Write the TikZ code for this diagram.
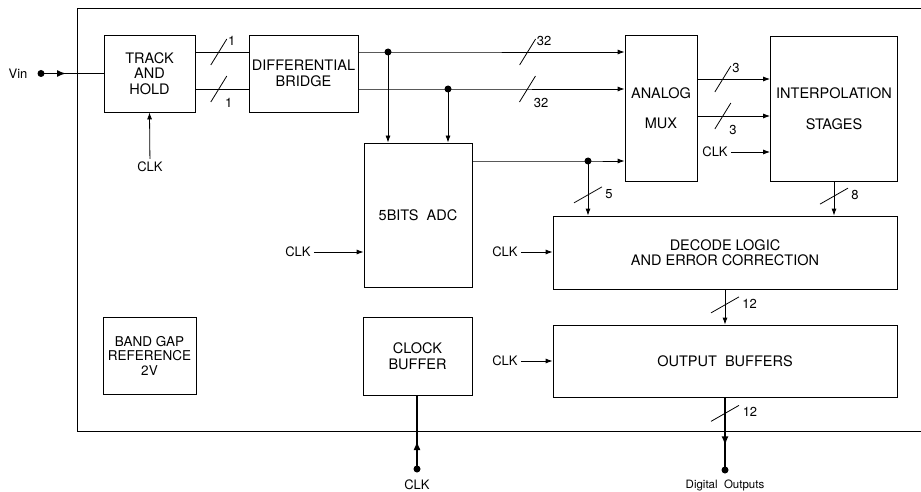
\documentclass[tikz,border=0pt]{standalone}
\usepackage{fontspec}
\setmainfont{TeX Gyre Heros}
\usetikzlibrary{arrows.meta,decorations.markings}

\tikzset{
  block/.style={draw, line width=0.8pt, align=center, inner sep=2pt,
    font=\fontsize{14.5}{15.5}\selectfont},
  tag/.style={inner sep=3pt, font=\fontsize{13}{14}\selectfont},
  wire/.style={line width=0.8pt},
  pin/.style={line width=1.5pt},
  dot/.style={circle, fill, inner sep=0pt, minimum size=7pt},
  midarrow/.style={postaction={decorate}, decoration={markings,
    mark=at position #1 with {\arrow{Latex[length=9pt,width=7pt]}}}},
  % bus width marks
  pics/busup/.style={code={\draw[wire, -] (-8,13) -- (8,-13);
    \node[tag, anchor=west, inner sep=1pt] at (8,-11) {#1};}},
  pics/busdn/.style={code={\draw[wire, -] (-8,13) -- (8,-13);
    \node[tag, anchor=west, inner sep=1pt] at (5,14) {#1};}},
  pics/busv/.style={code={\draw[wire, -] (-14,8) -- (14,-8);
    \node[tag, anchor=west, inner sep=1pt] at (16,-1) {#1};}},
}

\begin{document}
\begin{tikzpicture}[x=1pt, y=-1pt, >={Latex[length=7pt,width=5pt]}]
    \useasboundingbox (0,0) rectangle (921,492);

    % Chip outline
    \draw[wire] (921,8) -- (77,8) -- (77,431) -- (921,431);

    % Blocs
    \node[block, minimum width=91pt, minimum height=77pt] (th) at (149.5,73.5) {TRACK\\AND\\HOLD};
    \node[block, minimum width=109pt, minimum height=77pt] (db) at (303.5,73.5) {DIFFERENTIAL\\BRIDGE};
    \node[block, minimum width=72pt, minimum height=146pt] (mux) at (661,108) {ANALOG\\[15pt]MUX};
    \node[block, minimum width=127pt, minimum height=145pt] (ip) at (834,108.5) {INTERPOLATION\\[15pt]STAGES};
    \node[block, minimum width=108pt, minimum height=144pt] (adc) at (418,215) {5BITS\ \ ADC};
    \node[block, minimum width=344pt, minimum height=73pt] (dec) at (725,252.5) {DECODE\ LOGIC\\AND\ ERROR\ CORRECTION};
    \node[block, minimum width=344pt, minimum height=72pt] (ob) at (725,361) {OUTPUT\ \ BUFFERS};
    \node[block, minimum width=93pt, minimum height=77pt, font=\fontsize{13.5}{14.5}\selectfont] (bg) at (149.5,355.5) {BAND\ GAP\\REFERENCE\\2V};
    \node[block, minimum width=109pt, minimum height=78pt] (cb) at (417.5,356) {CLOCK\\BUFFER};

    % Points
    \coordinate (vin) at (41,73.5);
    \coordinate (busA) at (388,52);
    \coordinate (busB) at (448,89);
    \coordinate (adcout) at (588,161);
    \coordinate (mo1) at ([yshift=29pt]mux.east);
    \coordinate (mo2) at ([yshift=-8pt]mux.east);
    \coordinate (clkin) at (417,469);
    \coordinate (dout) at (725,470);

    % Labels
    \node[tag] (vinlab) at (18,73.5) {Vin};
    \node[tag] (clk0) at (150,167) {CLK};
    \node[tag] (clk1) at (298,252) {CLK};
    \node[tag] (clk2) at (505,252) {CLK};
    \node[tag] (clk3) at (715,152) {CLK};
    \node[tag] (clk4) at (505,361) {CLK};
    \node[tag] (clk5) at (417,485) {CLK};
    \node[tag, font=\fontsize{11.5}{13}\selectfont] (outlab) at (725,485) {Digital\ \ Outputs};

    % Entree et horloges
    \draw[pin, midarrow=0.4] (vin) -- (th.west);
    \draw[wire, ->] (clk0) -- (th.south);
    \draw[wire, ->] (clk1) -- (adc.west |- clk1);
    \draw[wire, ->] (clk2) -- (dec.west |- clk2);
    \draw[wire, ->] (clk3) -- (ip.west |- clk3);
    \draw[wire, ->] (clk4) -- (ob.west |- clk4);
    \draw[pin, midarrow=0.38] (clkin) -- (clkin |- cb.south);

    % Bus
    \draw[wire] (th.east |- busA) -- pic[pos=0.44]{busup=1} (db.west |- busA);
    \draw[wire] (th.east |- busB) -- pic[pos=0.44]{busdn=1} (db.west |- busB);
    \draw[wire, ->] (db.east |- busA) -- (busA) -- pic[pos=0.59]{busup=32} (mux.west |- busA);
    \draw[wire, ->] (db.east |- busB) -- (busB) -- pic[pos=0.45]{busdn=32} (mux.west |- busB);
    \draw[wire, ->] (busA) -- (busA |- adc.north);
    \draw[wire, ->] (busB) -- (busB |- adc.north);
    \draw[wire, ->] (adc.east |- adcout) -- (adcout) -- (mux.west |- adcout);
    \draw[wire, ->] (adcout) -- pic[pos=0.62]{busv=5} (adcout |- dec.north);
    \draw[wire, ->] (mo1) -- pic[pos=0.35]{busup=3} (ip.west |- mo1);
    \draw[wire, ->] (mo2) -- pic[pos=0.35]{busdn=3} (ip.west |- mo2);
    \draw[wire, ->] (ip.south) -- pic[pos=0.43]{busv=8} (ip.south |- dec.north);
    \draw[wire, ->] (dec.south) -- pic[pos=0.44]{busv=12} (ob.north);
    \draw[pin, midarrow=0.66] (ob.south) -- pic[pos=0.22]{busv=12} (dout);

    \node[dot] at (busA) {};
    \node[dot] at (busB) {};
    \node[dot] at (adcout) {};
    \node[dot] at (vin) {};
    \node[dot] at (clkin) {};
    \node[dot] at (dout) {};
\end{tikzpicture}
\end{document}
